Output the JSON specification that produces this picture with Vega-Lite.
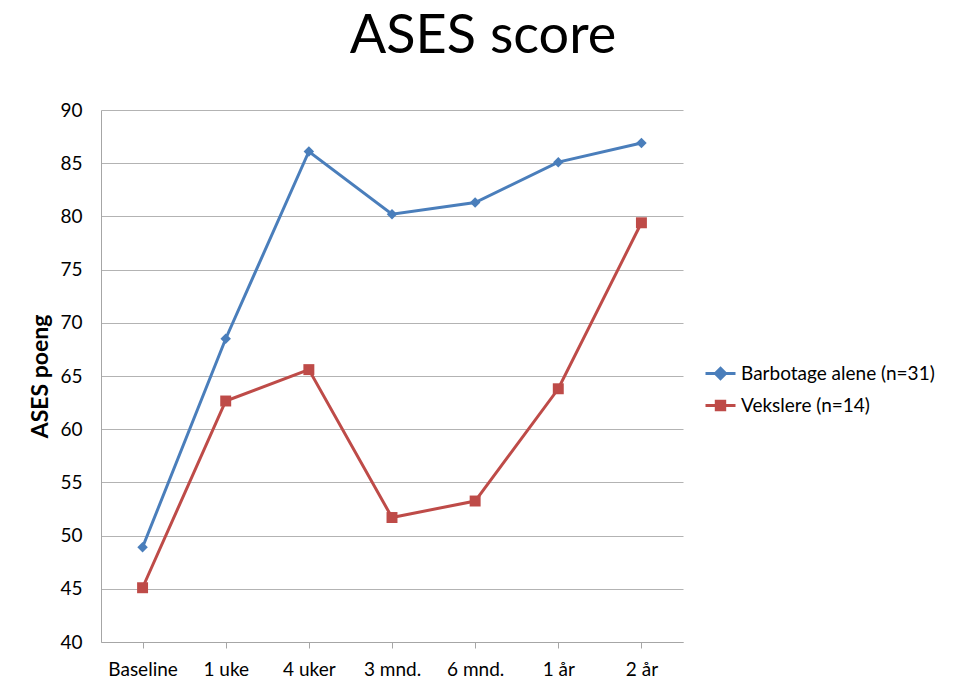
{
  "$schema": "https://vega.github.io/schema/vega-lite/v6.json",
  "autosize": {"type": "none"},
  "width": 582,
  "height": 532,
  "padding": {"left": 101, "top": 110, "right": 276, "bottom": 50},
  "background": "white",
  "title": {
    "text": "ASES score",
    "font": "Lato",
    "fontSize": 54,
    "fontWeight": "normal",
    "color": "black",
    "anchor": "middle",
    "frame": "group",
    "dx": 91,
    "offset": 37
  },
  "config": {
    "view": {"stroke": null},
    "font": "Lato",
    "axis": {
      "labelFont": "Lato",
      "labelColor": "black",
      "titleFont": "Lato",
      "titleColor": "black",
      "domainColor": "#a6a6a6",
      "tickColor": "#a6a6a6",
      "gridColor": "#b3b3b3"
    }
  },
  "data": {
    "values": [
      {"time": "Baseline", "series": "Barbotage alene (n=31)", "value": 48.9},
      {"time": "1 uke", "series": "Barbotage alene (n=31)", "value": 68.5},
      {"time": "4 uker", "series": "Barbotage alene (n=31)", "value": 86.1},
      {"time": "3 mnd.", "series": "Barbotage alene (n=31)", "value": 80.2},
      {"time": "6 mnd.", "series": "Barbotage alene (n=31)", "value": 81.3},
      {"time": "1 år", "series": "Barbotage alene (n=31)", "value": 85.1},
      {"time": "2 år", "series": "Barbotage alene (n=31)", "value": 86.9},
      {"time": "Baseline", "series": "Vekslere (n=14)", "value": 45.1},
      {"time": "1 uke", "series": "Vekslere (n=14)", "value": 62.65},
      {"time": "4 uker", "series": "Vekslere (n=14)", "value": 65.6},
      {"time": "3 mnd.", "series": "Vekslere (n=14)", "value": 51.7},
      {"time": "6 mnd.", "series": "Vekslere (n=14)", "value": 53.25},
      {"time": "1 år", "series": "Vekslere (n=14)", "value": 63.8},
      {"time": "2 år", "series": "Vekslere (n=14)", "value": 79.4}
    ]
  },
  "encoding": {
    "x": {
      "field": "time",
      "type": "nominal",
      "sort": null,
      "scale": {"type": "point", "padding": 0.5},
      "axis": {
        "title": null,
        "labelAngle": 0,
        "labelFontSize": 19,
        "tickSize": 6,
        "labelPadding": 12,
        "grid": false
      }
    },
    "y": {
      "field": "value",
      "type": "quantitative",
      "scale": {"domain": [40, 90], "nice": false, "zero": false},
      "axis": {
        "values": [40, 45, 50, 55, 60, 65, 70, 75, 80, 85, 90],
        "ticks": false,
        "labelPadding": 19,
        "labelFontSize": 19,
        "title": "ASES poeng",
        "titleFontSize": 23,
        "titleFontWeight": "bold",
        "titleX": -61,
        "titleY": 266,
        "titleBaseline": "middle"
      }
    },
    "color": {
      "field": "series",
      "type": "nominal",
      "scale": {"domain": ["Barbotage alene (n=31)", "Vekslere (n=14)"], "range": ["#4a7ebb", "#be4b48"]},
      "legend": {
        "title": null,
        "orient": "none",
        "legendX": 603,
        "legendY": 247,
        "labelFont": "Lato",
        "labelFontSize": 19,
        "labelColor": "black",
        "labelLimit": 400,
        "labelOffset": 4,
        "rowPadding": 4,
        "symbolSize": 900,
        "symbolStrokeWidth": 3,
        "encode": {
          "symbols": {
            "update": {
              "shape": {"signal": "datum.value == 'Barbotage alene (n=31)' ? 'M-1,0H1M0,-0.34L0.34,0L0,0.34L-0.34,0Z' : 'M-1,0H1M-0.28,-0.28H0.28V0.28H-0.28Z'"},
              "fill": {"signal": "datum.value == 'Barbotage alene (n=31)' ? '#4f81bd' : '#c0504d'"},
              "stroke": {"signal": "datum.value == 'Barbotage alene (n=31)' ? '#4a7ebb' : '#be4b48'"},
              "fillOpacity": {"value": 1},
              "opacity": {"value": 1},
              "strokeWidth": {"value": 3}
            }
          }
        }
      }
    }
  },
  "layer": [
    {"mark": {"type": "line", "strokeWidth": 3}},
    {
      "transform": [{"filter": "datum.series == 'Barbotage alene (n=31)'"}],
      "mark": {"type": "point", "shape": "diamond", "filled": true, "opacity": 1, "size": 110}
    },
    {
      "transform": [{"filter": "datum.series == 'Vekslere (n=14)'"}],
      "mark": {"type": "point", "shape": "square", "filled": true, "opacity": 1, "size": 120}
    }
  ]
}
